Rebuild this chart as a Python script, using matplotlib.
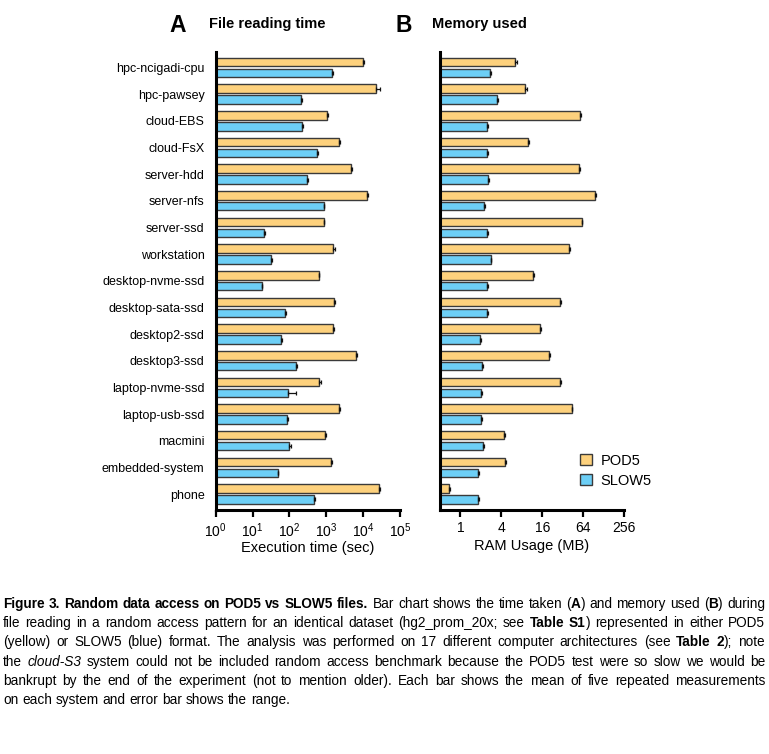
import matplotlib
matplotlib.use('Agg')
import matplotlib.pyplot as plt
import numpy as np
from matplotlib import font_manager
from matplotlib.patches import Patch
from matplotlib.transforms import IdentityTransform

# Данные: системы и измерения (время в секундах, память в МБ)
systems = ['hpc-ncigadi-cpu', 'hpc-pawsey', 'cloud-EBS', 'cloud-FsX', 'server-hdd',
           'server-nfs', 'server-ssd', 'workstation', 'desktop-nvme-ssd',
           'desktop-sata-ssd', 'desktop2-ssd', 'desktop3-ssd', 'laptop-nvme-ssd',
           'laptop-usb-ssd', 'macmini', 'embedded-system', 'phone']

time_pod5 = [9800, 22400, 1065, 2190, 4760, 12800, 845, 1510, 620, 1610, 1510, 6450, 630, 2190, 935, 1360, 27500]
time_pod5_max = [10800, 28000, 1110, 2290, 4950, 13400, 880, 1700, 650, 1680, 1570, 6700, 720, 2290, 980, 1420, 28500]
time_slow5 = [1390, 203, 224, 560, 300, 845, 20.5, 31, 17.5, 76, 59, 151, 92, 86, 97, 48, 470]
time_slow5_max = [1520, 215, 230, 600, 310, 880, 21.5, 33, 18.5, 82, 63, 165, 150, 90, 112, 50, 490]

ram_pod5 = [6.3, 8.9, 58.5, 9.85, 56, 96, 61, 40, 11.9, 29, 15, 20.3, 29.7, 43.6, 4.43, 4.58, 0.69]
ram_pod5_max = [6.9, 9.7, 59.5, 10.3, 57.5, 99, 62, 41.5, 12.1, 29.8, 15.4, 20.8, 30.5, 44.5, 4.6, 4.75, 0.71]
ram_slow5 = [2.73, 3.5, 2.47, 2.49, 2.55, 2.25, 2.47, 2.79, 2.47, 2.49, 1.97, 2.08, 2.01, 2.01, 2.15, 1.84, 1.84]
ram_slow5_max = [2.78, 3.58, 2.55, 2.57, 2.63, 2.3, 2.52, 2.85, 2.52, 2.55, 2.02, 2.13, 2.06, 2.06, 2.2, 1.88, 1.88]

ram_ticks = [1, 4, 16, 64, 256]

# подпись к рисунку: [..] жирный, <..> курсив
caption_lines = [
    "[Figure 3. Random data access on POD5 vs SLOW5 files.] Bar chart shows the time taken ([A]) and memory used ([B]) during",
    "file reading in a random access pattern for an identical dataset (hg2_prom_20x; see [Table S1]) represented in either POD5",
    "(yellow) or SLOW5 (blue) format. The analysis was performed on 17 different computer architectures (see [Table 2]); note",
    "the <cloud-S3> system could not be included random access benchmark because the POD5 test were so slow we would be",
    "bankrupt by the end of the experiment (not to mention older). Each bar shows the mean of five repeated measurements",
    "on each system and error bar shows the range.",
]

POD5_COLOR = '#FDD17D'
SLOW5_COLOR = '#6DCFF6'
EDGE = '#3a3a3a'

plt.rcParams['font.family'] = ['Liberation Sans', 'DejaVu Sans']
plt.rcParams['mathtext.default'] = 'regular'

W, H = 769, 754
fig = plt.figure(figsize=(W / 100, H / 100), dpi=100)

def px_axes(left, top, right, bottom):
    return fig.add_axes([left / W, 1 - bottom / H, (right - left) / W, (bottom - top) / H])

axA = px_axes(215.7, 52, 400, 510)
axB = px_axes(440, 52, 624, 510)

y = np.arange(len(systems))
off = 0.205
bh = 0.32

def draw_panel(ax, pod5, pod5_max, slow5, slow5_max, base):
    pod5 = np.array(pod5)
    slow5 = np.array(slow5)
    ax.barh(y - off, pod5 - base, left=base, height=bh, color=POD5_COLOR,
            edgecolor=EDGE, linewidth=1, zorder=2)
    ax.barh(y + off, slow5 - base, left=base, height=bh, color=SLOW5_COLOR,
            edgecolor=EDGE, linewidth=1, zorder=2)
    ax.errorbar(pod5, y - off, xerr=[np.zeros_like(pod5), np.array(pod5_max) - pod5],
                fmt='none', ecolor='#111', elinewidth=0.9, capsize=1.6, capthick=0.9, zorder=3)
    ax.errorbar(slow5, y + off, xerr=[np.zeros_like(slow5), np.array(slow5_max) - slow5],
                fmt='none', ecolor='#111', elinewidth=0.9, capsize=1.6, capthick=0.9, zorder=3)
    ax.set_ylim(len(systems) - 0.4, -0.58)
    for s in ['top', 'right']:
        ax.spines[s].set_visible(False)
    for s in ['left', 'bottom']:
        ax.spines[s].set_linewidth(2.2)
    ax.tick_params(axis='y', length=0, labelsize=9, pad=8)
    ax.tick_params(axis='x', length=5, width=1.6, labelsize=10, pad=3, direction='out')
    ax.set_xlim(base, None)

# Панель A
axA.set_xscale('log')
draw_panel(axA, time_pod5, time_pod5_max, time_slow5, time_slow5_max, 1)
axA.set_xlim(1, 1e5)
axA.set_xticks([1, 10, 100, 1e3, 1e4, 1e5])
axA.minorticks_off()
axA.set_yticks(y)
axA.set_yticklabels(systems)
axA.set_xlabel('Execution time (sec)', fontsize=10.5, labelpad=1)

# Панель B
axB.set_xscale('log', base=2)
draw_panel(axB, ram_pod5, ram_pod5_max, ram_slow5, ram_slow5_max, 0.5)
axB.set_xlim(0.5, 256)
axB.set_xticks(ram_ticks)
axB.set_xticklabels([str(t) for t in ram_ticks])
axB.minorticks_off()
axB.set_yticks([])
axB.set_xlabel('RAM Usage (MB)', fontsize=10.5, labelpad=3)

handles = [Patch(facecolor=POD5_COLOR, edgecolor=EDGE, label='POD5'),
           Patch(facecolor=SLOW5_COLOR, edgecolor=EDGE, label='SLOW5')]
axB.legend(handles=handles, loc='lower left', bbox_to_anchor=(0.69, 0.02), frameon=False,
           fontsize=10.5, handlelength=0.8, handleheight=0.8, handletextpad=0.6, labelspacing=0.4)

# Заголовки панелей
fig.text(178 / W, 1 - 26 / H, 'A', fontsize=16.5, fontweight='bold', ha='center', va='center')
fig.text(209 / W, 1 - 24 / H, 'File reading time', fontsize=10.5, fontweight='bold', ha='left', va='center')
fig.text(404 / W, 1 - 26 / H, 'B', fontsize=16.5, fontweight='bold', ha='center', va='center')
fig.text(432 / W, 1 - 24 / H, 'Memory used', fontsize=10.5, fontweight='bold', ha='left', va='center')

# Подпись с выравниванием по ширине
try:
    font_manager.findfont('Liberation Sans Narrow', fallback_to_default=False)
    cap_font = 'Liberation Sans Narrow'
except Exception:
    cap_font = 'Liberation Sans'

def parse_words(line):
    words, cur, run, bold, ital = [], [], '', False, False
    def flush_run():
        nonlocal run
        if run:
            cur.append((run, bold, ital))
            run = ''
    for ch in line:
        if ch in '[]<>':
            flush_run()
            if ch == '[':
                bold = True
            elif ch == ']':
                bold = False
            elif ch == '<':
                ital = True
            else:
                ital = False
        elif ch == ' ':
            flush_run()
            if cur:
                words.append(cur)
            cur = []
        else:
            run += ch
    flush_run()
    if cur:
        words.append(cur)
    return words

renderer = fig.canvas.get_renderer()

def make_text(s, bold, ital, size):
    return fig.text(0, 0, s, transform=IdentityTransform(), fontsize=size, family=cap_font,
                    fontweight='bold' if bold else 'normal',
                    fontstyle='italic' if ital else 'normal', va='baseline', ha='left')

def text_w(s, bold, ital, size):
    t = make_text(s, bold, ital, size)
    w = t.get_window_extent(renderer).width
    t.remove()
    return w

cap_left, cap_right = 3, 765
line_top = 608
line_step = 19.2

# подбор размера шрифта так, чтобы самая длинная строка помещалась
base_size = 10.0
space_w0 = text_w('a a', False, False, base_size) - text_w('aa', False, False, base_size)
natural = []
for line in caption_lines:
    words = parse_words(line)
    natural.append(sum(text_w(s, b, it, base_size) for wd in words for s, b, it in wd)
                   + space_w0 * (len(words) - 1))
cap_size = min(10.6, base_size * (cap_right - cap_left) / (max(natural) * 1.01))
space_w = space_w0 * cap_size / base_size

for li, line in enumerate(caption_lines):
    words = parse_words(line)
    items = []
    widths = []
    for word in words:
        runs = []
        ww = 0
        for s, b, it in word:
            t = make_text(s, b, it, cap_size)
            rw = t.get_window_extent(renderer).width
            runs.append((t, rw))
            ww += rw
        items.append(runs)
        widths.append(ww)
    total = sum(widths)
    if li < len(caption_lines) - 1 and len(words) > 1:
        gap = (cap_right - cap_left - total) / (len(words) - 1)
    else:
        gap = space_w
    x = cap_left
    ybase = H - (line_top + li * line_step)
    for runs, ww in zip(items, widths):
        xx = x
        for t, rw in runs:
            t.set_position((xx, ybase))
            xx += rw
        x += ww + gap

fig.savefig('out.png', dpi=100)
